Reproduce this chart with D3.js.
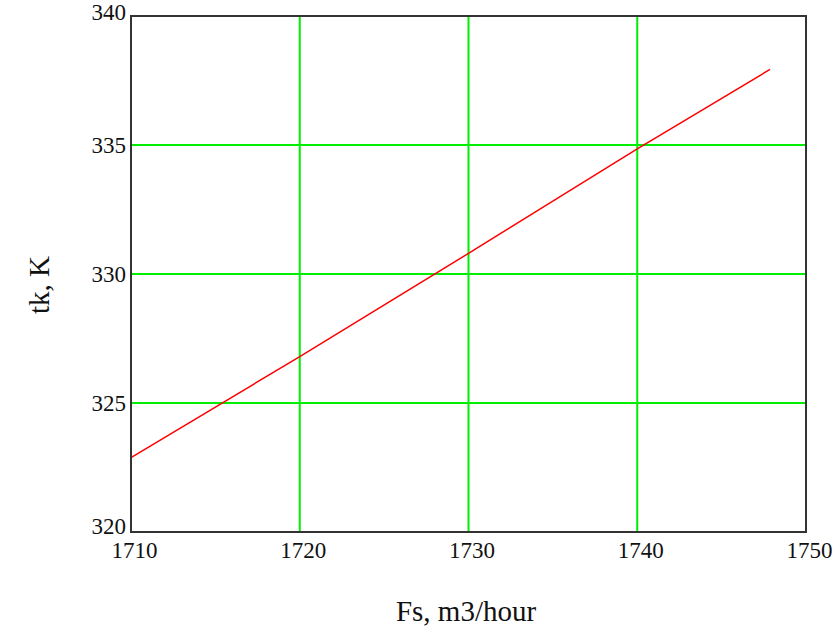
<!DOCTYPE html>
<html>
<head>
<meta charset="utf-8">
<script src="https://cdn.jsdelivr.net/npm/d3@7"></script>
<style>
  body { margin: 0; background: #fff; }
  svg { display: block; }
  .tick text { font-family: "Liberation Serif", "Times New Roman", serif; }
</style>
</head>
<body>
<div id="graph"></div>
<script>
(function() {
  'use strict';

  // values
  var flowFs = [1710, 1720, 1730, 1740, 1747.87];
  var tempTk = [322.88, 326.8, 330.8, 334.85, 337.93];
  var xTicks = [1710, 1720, 1730, 1740, 1750];
  var yTicks = [320, 325, 330, 335, 340];

  var width = 840, height = 637;
  var left = 131, right = 806, top = 16, bottom = 532;

  var svg = d3.select('#graph').append('svg')
    .attr('width', width)
    .attr('height', height);

  var x = d3.scaleLinear().domain([1710, 1750]).range([left, right]);
  var y = d3.scaleLinear().domain([320, 340]).range([bottom, top]);

  // grid
  svg.append('g')
    .selectAll('line.vg')
    .data(xTicks.slice(1, -1))
    .enter().append('line')
    .attr('x1', function(d) { return x(d); })
    .attr('x2', function(d) { return x(d); })
    .attr('y1', top).attr('y2', bottom)
    .style('stroke', '#00ee00')
    .style('stroke-width', 2);

  svg.append('g')
    .selectAll('line.hg')
    .data(yTicks.slice(1, -1))
    .enter().append('line')
    .attr('y1', function(d) { return y(d); })
    .attr('y2', function(d) { return y(d); })
    .attr('x1', left).attr('x2', right)
    .style('stroke', '#00ee00')
    .style('stroke-width', 2);

  // data line
  var line = d3.line()
    .x(function(d, i) { return x(flowFs[i]); })
    .y(function(d) { return y(d); });

  svg.append('path')
    .datum(tempTk)
    .attr('d', line)
    .style('fill', 'none')
    .style('stroke', '#ff0000')
    .style('stroke-width', 1.5);

  // frame
  svg.append('rect')
    .attr('x', left).attr('y', top)
    .attr('width', right - left).attr('height', bottom - top)
    .style('fill', 'none')
    .style('stroke', '#333')
    .style('stroke-width', 2);

  // axes (labels only)
  var xAxis = svg.append('g')
    .attr('transform', 'translate(0,' + bottom + ')')
    .call(d3.axisBottom(x).tickValues(xTicks).tickFormat(d3.format('d'))
      .tickSize(0).tickPadding(10));
  xAxis.select('.domain').remove();
  xAxis.selectAll('text')
    .attr('dx', 3)
    .style('font-size', '23px')
    .style('fill', '#111');

  var yAxis = svg.append('g')
    .attr('transform', 'translate(' + left + ',0)')
    .call(d3.axisLeft(y).tickValues(yTicks).tickFormat(d3.format('d'))
      .tickSize(0).tickPadding(5));
  yAxis.select('.domain').remove();
  yAxis.selectAll('text')
    .style('font-size', '23px')
    .style('fill', '#111')
    .attr('dy', function(d) {
      if (d === 340) return '0.15em';
      if (d === 320) return '0.05em';
      return '0.32em';
    });

  // titles
  svg.append('text')
    .attr('x', 466)
    .attr('y', 621)
    .attr('text-anchor', 'middle')
    .style('font-family', '"Liberation Serif", "Times New Roman", serif')
    .style('font-size', '29px')
    .style('fill', '#111')
    .text('Fs, m3/hour');

  svg.append('text')
    .attr('transform', 'translate(49,285) rotate(-90)')
    .attr('text-anchor', 'middle')
    .style('font-family', '"Liberation Serif", "Times New Roman", serif')
    .style('font-size', '29px')
    .style('fill', '#111')
    .text('tk, K');
})();
</script>
</body>
</html>
